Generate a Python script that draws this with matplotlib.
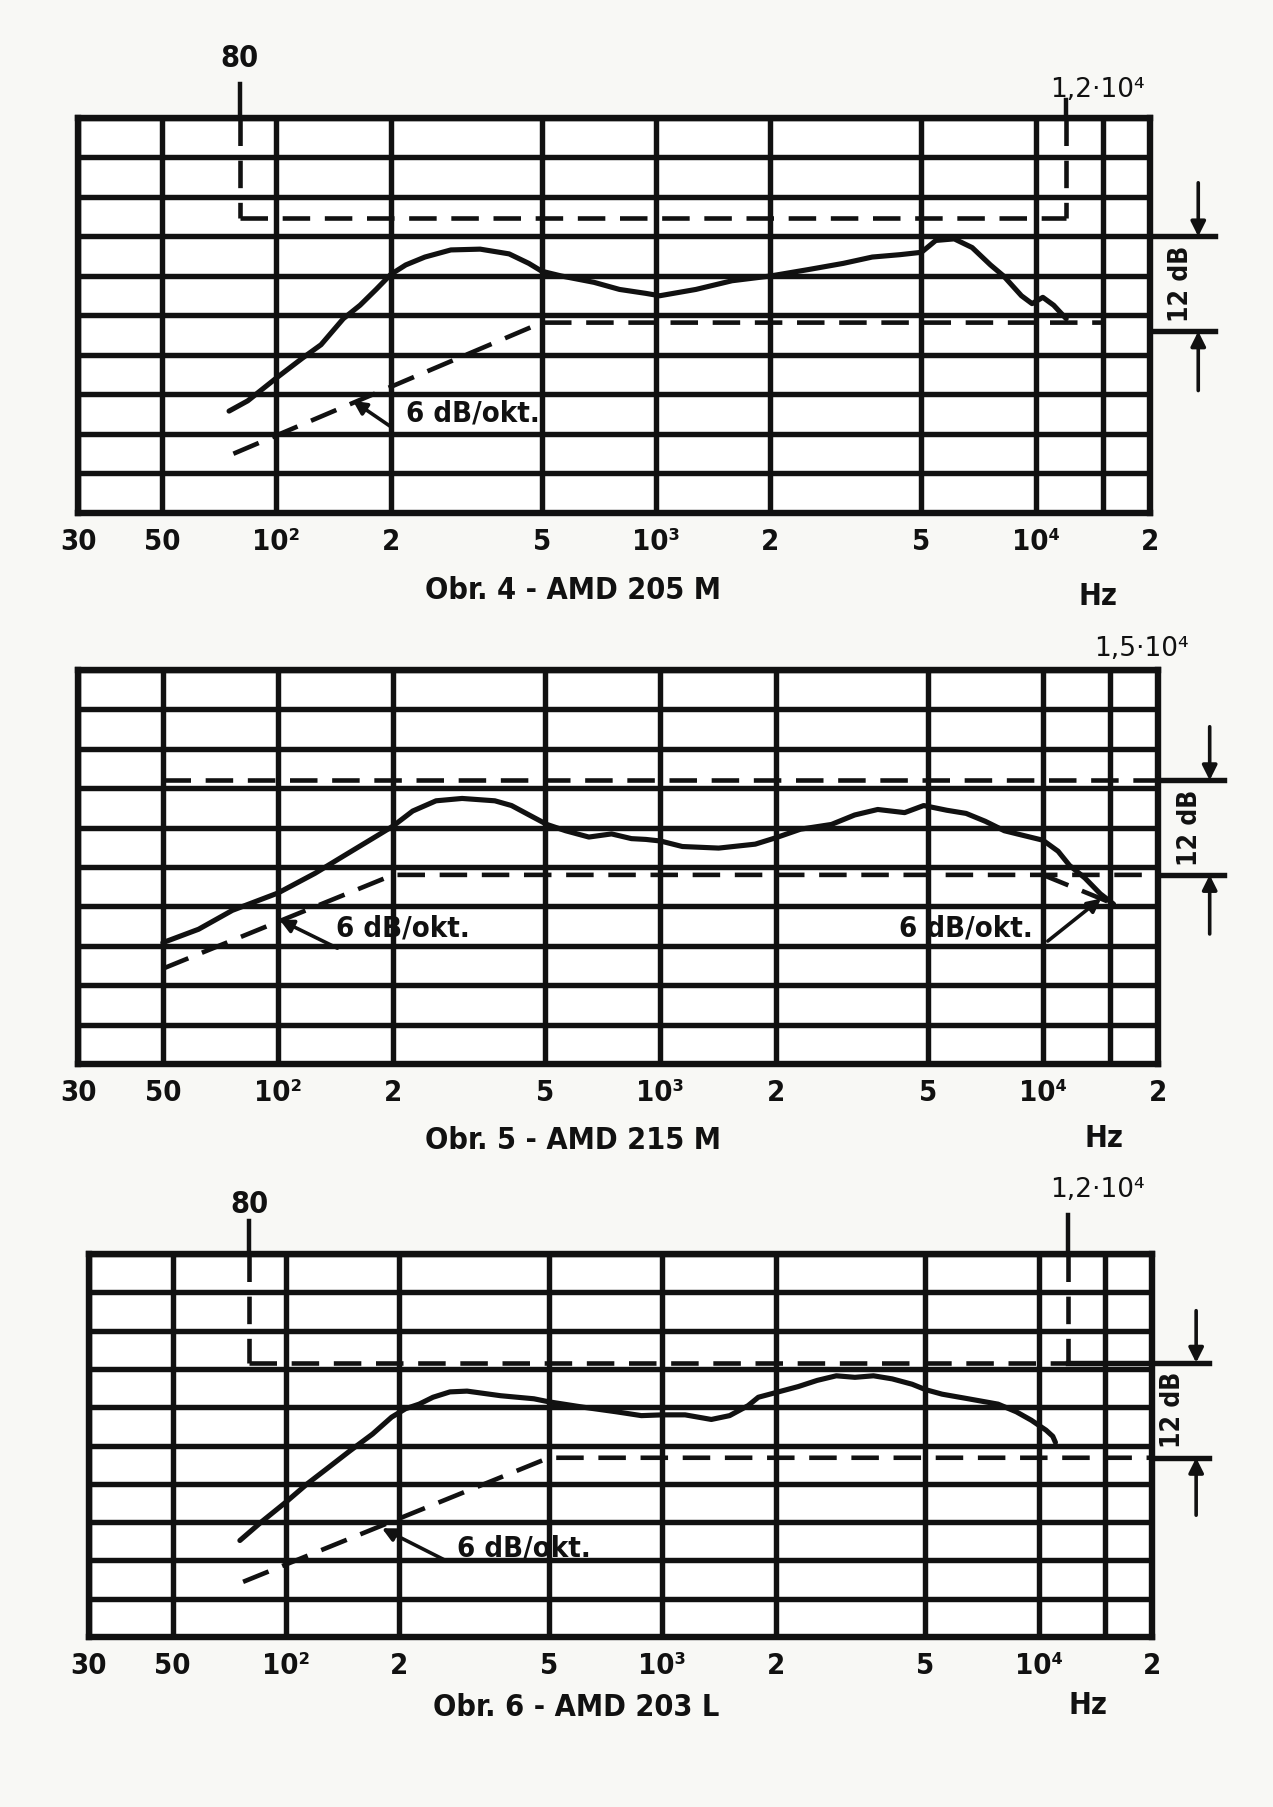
"""Three loudspeaker frequency-response sheets (AMD 205 M, 215 M, 203 L).
"""

import matplotlib

matplotlib.use("Agg")
from matplotlib import pyplot as plt
from matplotlib.ticker import NullLocator

INK = "#111111"
PAPER = "#f8f8f5"
FONT = ["Liberation Sans Narrow", "DejaVu Sans"]

W, H = 1273, 1807

# chart paper
FREQ_LINES = [30, 50, 100, 200, 500, 1000, 2000, 5000, 10000, 15000, 20000]
DB_LINES = [0, 5, 10, 15, 20, 25, 30, 35, 40, 45, 50]
TICK_FREQS = [30, 50, 100, 200, 500, 1000, 2000, 5000, 10000, 20000]
TICK_LABELS = ["30", "50", "10²", "2", "5", "10³", "2", "5", "10⁴", "2"]

CAPTIONS = ["Obr. 4 - AMD 205 M", "Obr. 5 - AMD 215 M", "Obr. 6 - AMD 203 L"]

# --- Obr. 4, AMD 205 M ---
amd205_freq = [75, 84, 100, 117, 131, 150, 166, 183, 200, 219, 246, 288, 344,
               410, 462, 500, 563, 686, 801, 940, 1022, 1273, 1585, 2000, 2508,
               3113, 3710, 4390, 5000, 5455, 6100, 6800, 7600, 8230, 9170, 9780,
               10440, 11150, 12030]
amd205_db = [12.9, 14.2, 17.1, 19.6, 21.3, 24.6, 26.3, 28.3, 30.2, 31.4, 32.4,
             33.3, 33.4, 32.8, 31.6, 30.6, 30.0, 29.2, 28.3, 27.8, 27.5, 28.3,
             29.4, 30.0, 30.8, 31.6, 32.4, 32.7, 33.0, 34.5, 34.7, 33.6, 31.4,
             30.0, 27.5, 26.5, 27.3, 26.3, 24.6]
amd205_upper = 37.4
amd205_lower_freq = [77, 500, 15000]
amd205_lower_db = [7.5, 24.1, 24.1]
amd205_bracket = (35.0, 23.0)

# --- Obr. 5, AMD 215 M ---
amd215_freq = [50, 62, 76, 100, 125, 152, 185, 200, 225, 259, 303, 369, 408,
               466, 505, 565, 650, 745, 840, 916, 1000, 1141, 1420, 1770, 2000,
               2325, 2800, 3220, 3700, 4350, 4880, 5610, 6300, 7070, 7930, 8900,
               10000, 10960, 11740, 12880, 14130, 15300]
amd215_db = [15.4, 17.1, 19.5, 21.7, 24.2, 26.7, 29.2, 30.2, 32.1, 33.4, 33.7,
             33.4, 32.8, 31.3, 30.4, 29.6, 28.8, 29.2, 28.6, 28.5, 28.3, 27.6,
             27.4, 27.9, 28.7, 29.8, 30.4, 31.6, 32.3, 31.9, 32.8, 32.2, 31.8,
             30.8, 29.6, 29.0, 28.4, 27.0, 25.2, 23.6, 21.6, 20.3]
amd215_upper = 36.0
amd215_upper_start = 50
amd215_lower_freq = [50, 200, 20000]
amd215_lower_db = [12.1, 24.0, 24.0]
amd215_rolloff_freq = [10000, 15000]
amd215_rolloff_db = [24.0, 20.5]
amd215_bracket = (36.0, 24.0)

# --- Obr. 6, AMD 203 L ---
amd203_freq = [75.5, 86, 100, 114, 128, 148, 170, 191, 208, 226, 246, 273, 303,
               372, 456, 500, 617, 755, 880, 1000, 1150, 1350, 1510, 1690, 1800,
               2000, 2300, 2580, 2900, 3250, 3640, 4080, 4610, 5000, 5540, 6500,
               7800, 8720, 9560, 10100, 10460, 10900, 11080]
amd203_db = [12.6, 15.0, 17.6, 20.0, 21.9, 24.3, 26.5, 28.7, 29.8, 30.4, 31.3,
             32.0, 32.1, 31.5, 31.1, 30.7, 30.0, 29.4, 28.9, 29.0, 29.0, 28.4,
             28.9, 30.2, 31.3, 31.9, 32.7, 33.5, 34.1, 33.9, 34.1, 33.7, 33.0,
             32.3, 31.7, 31.1, 30.4, 29.4, 28.3, 27.5, 27.0, 26.2, 25.4]
amd203_upper = 35.8
amd203_lower_freq = [77, 500, 20000]
amd203_lower_db = [7.2, 23.4, 23.4]
amd203_bracket = (35.8, 23.4)

# 6 dB/okt. notes: (tip, leader end, text centre) in (Hz, dB)
notes_205 = [((159, 14.2), (199, 11.0), (330, 12.6))]
notes_215 = [((101, 18.3), (143, 14.7), (212, 17.2)),
             ((14200, 21.0), (10300, 15.6), (6300, 17.2))]
notes_203 = [((180, 14.2), (268, 9.9), (430, 11.6))]

# panel frames in pixels: left, top, right, bottom
FRAMES = [(78, 118, 1150, 513), (78, 670, 1158, 1064), (89, 1254, 1152, 1637)]

DASH = (0, (6, 3.2))
GRID_LW = 3.9


def make_axes(fig, frame):
    left, top, right, bottom = frame
    ax = fig.add_axes([left / W, 1 - bottom / H, (right - left) / W, (bottom - top) / H])
    ax.set_xscale("log")
    ax.set_xlim(30, 20000)
    ax.set_ylim(0, 50)
    ax.set_facecolor("white")
    for f in FREQ_LINES:
        ax.axvline(f, color=INK, lw=GRID_LW, zorder=1)
    for d in DB_LINES:
        ax.axhline(d, color=INK, lw=GRID_LW, zorder=1)
    for spine in ax.spines.values():
        spine.set_linewidth(4.6)
        spine.set_color(INK)
    ax.set_xticks(TICK_FREQS, TICK_LABELS)
    ax.xaxis.set_minor_locator(NullLocator())
    ax.set_yticks([])
    ax.tick_params(axis="x", length=0, pad=11, labelsize=21, labelcolor=INK)
    for lab in ax.get_xticklabels():
        lab.set_fontweight("bold")
        lab.set_family(FONT)
        lab.set_fontstretch("condensed")
    return ax


def bold_text(ax, x, y, s, size=20, **kw):
    kw.setdefault("ha", "center")
    kw.setdefault("va", "center")
    return ax.text(x, y, s, fontsize=size, fontweight="bold", family=FONT,
                   fontstretch="condensed", color=INK, clip_on=False, **kw)


def dashed(ax, xs, ys):
    ax.plot(xs, ys, color=INK, lw=3.3, ls=DASH, dash_capstyle="butt",
            zorder=3, clip_on=False)


def marker(ax, freq, level, label_y, line_top, label, label_x=None, ha="center"):
    # vertical limit mark: solid above the paper, dashed down to the level
    ax.plot([freq, freq], [50, line_top], color=INK, lw=3.2, clip_on=False)
    dashed(ax, [freq, freq], [50, level])
    if label_x is None:
        label_x = freq
    if label == "80":
        bold_text(ax, label_x, label_y, label, size=22, ha=ha)
    else:
        ax.text(label_x, label_y, label, fontsize=19, family=FONT, color=INK,
                ha=ha, va="center", clip_on=False)


def bracket(ax, top, bottom, f_arrow, f_end, f_text):
    for lvl in (top, bottom):
        ax.plot([20000, f_end], [lvl, lvl], color=INK, lw=GRID_LW, clip_on=False)
    arrow = dict(arrowstyle="-|>", color=INK, lw=2.6, mutation_scale=22,
                 shrinkA=0, shrinkB=0)
    ax.annotate("", xy=(f_arrow, top), xytext=(f_arrow, top + 6.8),
                arrowprops=arrow, annotation_clip=False)
    ax.annotate("", xy=(f_arrow, bottom), xytext=(f_arrow, bottom - 7.5),
                arrowprops=arrow, annotation_clip=False)
    bold_text(ax, f_text, (top + bottom) / 2, "12 dB", size=19, rotation=90)


def notes(ax, items):
    for tip, start, centre in items:
        ax.annotate("", xy=tip, xytext=start,
                    arrowprops=dict(arrowstyle="-|>", color=INK, lw=2.6,
                                    mutation_scale=20, shrinkA=0, shrinkB=0),
                    zorder=4)
        bold_text(ax, centre[0], centre[1], "6 dB/okt.", size=21)


def captions(ax, text, x, y, hz_x, hz_y):
    bold_text(ax, x, y, text, size=22, transform=ax.transAxes)
    bold_text(ax, hz_x, hz_y, "Hz", size=22, transform=ax.transAxes)


fig = plt.figure(figsize=(W / 100, H / 100), dpi=100)
fig.patch.set_facecolor(PAPER)

# Obr. 4
ax = make_axes(fig, FRAMES[0])
ax.plot(amd205_freq, amd205_db, color=INK, lw=3.7, solid_capstyle="round",
        solid_joinstyle="round", zorder=4)
dashed(ax, [80, 12000], [amd205_upper, amd205_upper])
dashed(ax, amd205_lower_freq, amd205_lower_db)
marker(ax, 80, amd205_upper, 57.5, 54.3, "80")
marker(ax, 12000, amd205_upper, 53.6, 52.3, "1,2·10⁴", label_x=10900, ha="left")
bracket(ax, *amd205_bracket, 26800, 29700, 24200)
notes(ax, notes_205)
captions(ax, CAPTIONS[0], 0.462, -0.195, 0.951, -0.212)

# Obr. 5
ax = make_axes(fig, FRAMES[1])
ax.plot(amd215_freq, amd215_db, color=INK, lw=3.7, solid_capstyle="round",
        solid_joinstyle="round", zorder=4)
dashed(ax, [amd215_upper_start, 20000], [amd215_upper, amd215_upper])
dashed(ax, amd215_lower_freq, amd215_lower_db)
dashed(ax, amd215_rolloff_freq, amd215_rolloff_db)
ax.text(13600, 52.7, "1,5·10⁴", fontsize=19, family=FONT, color=INK,
        ha="left", va="center", clip_on=False)
bracket(ax, *amd215_bracket, 27300, 29700, 24200)
notes(ax, notes_215)
captions(ax, CAPTIONS[1], 0.458, -0.193, 0.950, -0.188)

# Obr. 6
ax = make_axes(fig, FRAMES[2])
ax.plot(amd203_freq, amd203_db, color=INK, lw=3.7, solid_capstyle="round",
        solid_joinstyle="round", zorder=4)
dashed(ax, [80, 12000], [amd203_upper, amd203_upper])
ax.plot([12000, 20000], [amd203_upper, amd203_upper], color=INK, lw=GRID_LW, zorder=3)
dashed(ax, amd203_lower_freq, amd203_lower_db)
marker(ax, 80, amd203_upper, 56.5, 54.3, "80")
marker(ax, 12000, amd203_upper, 58.3, 55.1, "1,2·10⁴", label_x=10700, ha="left")
bracket(ax, *amd203_bracket, 26200, 28300, 22800)
notes(ax, notes_203)
captions(ax, CAPTIONS[2], 0.458, -0.185, 0.940, -0.178)

fig.savefig("out.png", dpi=100, facecolor=PAPER)
